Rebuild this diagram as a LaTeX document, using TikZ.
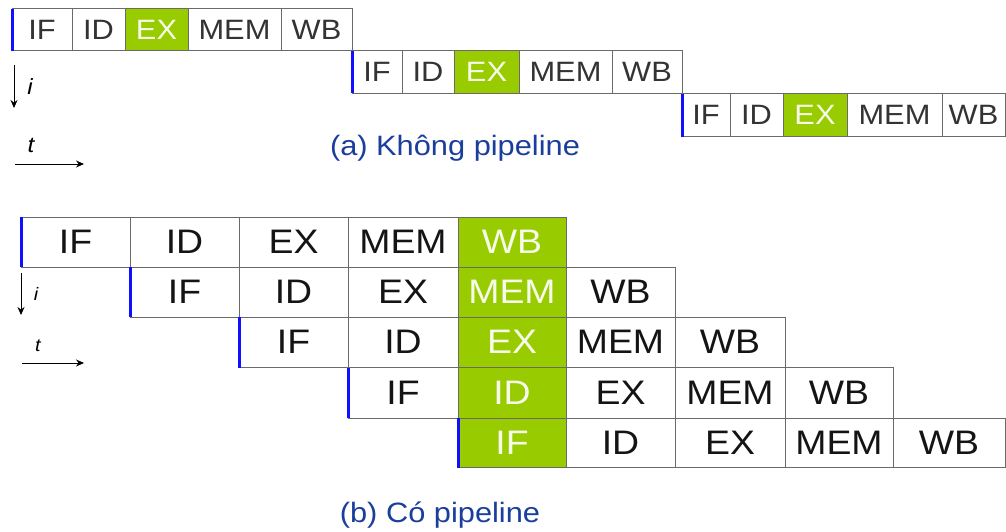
\documentclass[tikz,border=0pt]{standalone}
\usepackage{fontspec}
\setmainfont{Liberation Sans}[FakeStretch=1.1]
\usetikzlibrary{arrows.meta}
\definecolor{pgreen}{HTML}{99CC00}
\definecolor{capblue}{HTML}{1A3E9C}
\definecolor{edgeblue}{HTML}{1010FF}
\definecolor{gridgray}{HTML}{6A6A6A}
\newcommand{\cellnode}[7][]{\node[cellbox,#1,minimum width={#4-#3},minimum height={#6-#5}] (#2) at ({(#3+#4)/2},{(#5+#6)/2}) {#7};}
\tikzset{
  cellbox/.style={draw=gridgray, line width=0.8pt, rectangle, inner sep=0pt, outer sep=0pt, text=black!80},
  smalltxt/.style={font=\fontsize{28}{30}\selectfont},
  bigtxt/.style={font=\fontsize{34}{36}\selectfont, text=black!92},
  hl/.style={fill=pgreen, text=white!92!pgreen},
  blueedge/.style={draw=edgeblue, line width=3pt},
  axisarrow/.style={draw=black, line width=0.9pt, -{Stealth[length=8pt,width=7pt]}},
  caption/.style={font=\fontsize{28}{30}\selectfont, text=capblue, anchor=base},
}
\begin{document}
\begin{tikzpicture}[x=1pt,y=-1pt]
\useasboundingbox (0,0) rectangle (1006,531);
% (a) no pipeline
\cellnode[smalltxt]{a1}{12}{72}{8.5}{50.5}{IF}
\cellnode[smalltxt]{a2}{72}{125}{8.5}{50.5}{ID}
\cellnode[smalltxt,hl]{a3}{125}{188}{8.5}{50.5}{EX}
\cellnode[smalltxt]{a4}{188}{281}{8.5}{50.5}{MEM}
\cellnode[smalltxt]{a5}{281}{352}{8.5}{50.5}{WB}
\cellnode[smalltxt]{b1}{352}{402}{50.5}{93}{IF}
\cellnode[smalltxt]{b2}{402}{454}{50.5}{93}{ID}
\cellnode[smalltxt,hl]{b3}{454}{519}{50.5}{93}{EX}
\cellnode[smalltxt]{b4}{519}{612}{50.5}{93}{MEM}
\cellnode[smalltxt]{b5}{612}{682}{50.5}{93}{WB}
\cellnode[smalltxt]{c1}{682}{730}{93.5}{136.5}{IF}
\cellnode[smalltxt]{c2}{730}{783}{93.5}{136.5}{ID}
\cellnode[smalltxt,hl]{c3}{783}{847}{93.5}{136.5}{EX}
\cellnode[smalltxt]{c4}{847}{942}{93.5}{136.5}{MEM}
\cellnode[smalltxt]{c5}{942}{1005}{93.5}{136.5}{WB}
\foreach \n in {a1,b1,c1} \draw[blueedge] (\n.north west) -- (\n.south west);
% axes (a)
\coordinate (ai0) at (14,65);
\coordinate (ai1) at (14,108);
\draw[axisarrow] (ai0) -- (ai1);
\node[font=\fontsize{22}{24}\selectfont\itshape] (ailab) at (30,87) {i};
\coordinate (at0) at (15,164);
\coordinate (at1) at (84,164);
\draw[axisarrow] (at0) -- (at1);
\node[font=\fontsize{22}{24}\selectfont\itshape] (atlab) at (31,145) {t};
\node[caption] (capa) at (455,155) {(a) Không pipeline};
% (b) pipeline
\cellnode[bigtxt]{p11}{21}{130}{217}{267}{IF}
\cellnode[bigtxt]{p12}{130}{239}{217}{267}{ID}
\cellnode[bigtxt]{p13}{239}{348}{217}{267}{EX}
\cellnode[bigtxt]{p14}{348}{458}{217}{267}{MEM}
\cellnode[bigtxt,hl]{p15}{458}{566}{217}{267}{WB}
\cellnode[bigtxt]{p21}{130}{239}{267}{317}{IF}
\cellnode[bigtxt]{p22}{239}{348}{267}{317}{ID}
\cellnode[bigtxt]{p23}{348}{458}{267}{317}{EX}
\cellnode[bigtxt,hl]{p24}{458}{566}{267}{317}{MEM}
\cellnode[bigtxt]{p25}{566}{675}{267}{317}{WB}
\cellnode[bigtxt]{p31}{239}{348}{317}{367.5}{IF}
\cellnode[bigtxt]{p32}{348}{458}{317}{367.5}{ID}
\cellnode[bigtxt,hl]{p33}{458}{566}{317}{367.5}{EX}
\cellnode[bigtxt]{p34}{566}{675}{317}{367.5}{MEM}
\cellnode[bigtxt]{p35}{675}{785}{317}{367.5}{WB}
\cellnode[bigtxt]{p41}{348}{458}{367.5}{418}{IF}
\cellnode[bigtxt,hl]{p42}{458}{566}{367.5}{418}{ID}
\cellnode[bigtxt]{p43}{566}{675}{367.5}{418}{EX}
\cellnode[bigtxt]{p44}{675}{785}{367.5}{418}{MEM}
\cellnode[bigtxt]{p45}{785}{893}{367.5}{418}{WB}
\cellnode[bigtxt,hl]{p51}{458}{566}{418}{467.5}{IF}
\cellnode[bigtxt]{p52}{566}{675}{418}{467.5}{ID}
\cellnode[bigtxt]{p53}{675}{785}{418}{467.5}{EX}
\cellnode[bigtxt]{p54}{785}{893}{418}{467.5}{MEM}
\cellnode[bigtxt]{p55}{893}{1005}{418}{467.5}{WB}
\foreach \n in {p11,p21,p31,p41,p51} \draw[blueedge] (\n.north west) -- (\n.south west);
% axes (b)
\coordinate (bi0) at (21,273);
\coordinate (bi1) at (21,315);
\draw[axisarrow] (bi0) -- (bi1);
\node[font=\fontsize{18}{20}\selectfont\itshape] (bilab) at (36,294) {i};
\coordinate (bt0) at (22,363);
\coordinate (bt1) at (84,363);
\draw[axisarrow] (bt0) -- (bt1);
\node[font=\fontsize{18}{20}\selectfont\itshape] (btlab) at (38,346) {t};
\node[caption] (capb) at (440,522) {(b) Có pipeline};
\end{tikzpicture}
\end{document}
